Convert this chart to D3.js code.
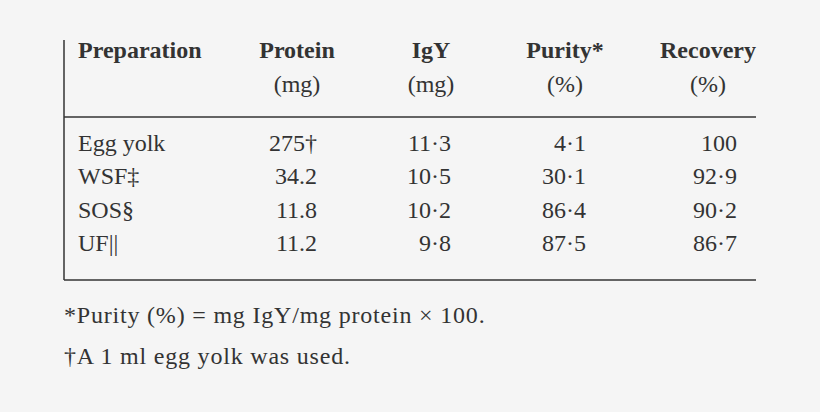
<!DOCTYPE html>
<html><head><meta charset="utf-8">
<script src="https://cdn.jsdelivr.net/npm/d3@7"></script>
<style>body{margin:0;background:#f5f5f5}</style>
</head><body><div id="chart"></div>
<script>
var headers = [["Preparation", ""], ["Protein", "(mg)"], ["IgY", "(mg)"], ["Purity*", "(%)"], ["Recovery", "(%)"]];
var rows = ["Egg yolk", "WSF‡", "SOS§", "UF||"];
var protein = ["275†", "34.2", "11.8", "11.2"];
var igy = ["11·3", "10·5", "10·2", "9·8"];
var purity = ["4·1", "30·1", "86·4", "87·5"];
var recovery = ["100", "92·9", "90·2", "86·7"];
var notes = ["*Purity (%) = mg IgY/mg protein × 100.", "†A 1 ml egg yolk was used."];

var width = 820, height = 412;
var svg = d3.select('#chart').append('svg').attr('width', width).attr('height', height)
  .style('font-family', '"Liberation Serif", "DejaVu Serif", serif');
svg.append('rect').attr('width', width).attr('height', height).attr('fill', '#f5f5f5');

var cols = [rows, protein, igy, purity, recovery];
var headX = [78, 297, 431, 565, 708];
var valX = [78, 317, 451, 586, 737];

var y = d3.scaleBand().domain(d3.range(rows.length)).range([126, 260]);

// rules
[[64, 64, 40, 280], [64, 756, 117, 117], [64, 756, 280, 280]].forEach(function(l) {
  svg.append('line').attr('x1', l[0]).attr('x2', l[1]).attr('y1', l[2]).attr('y2', l[3])
    .attr('stroke', '#333').attr('stroke-width', 1.5);
});

headers.forEach(function(h, i) {
  h.forEach(function(t, j) {
    svg.append('text').attr('x', headX[i]).attr('y', 58 + j * 34)
      .attr('text-anchor', i === 0 ? 'start' : 'middle')
      .attr('font-weight', j === 0 ? 'bold' : 'normal')
      .attr('font-size', 24).attr('fill', '#333').text(t);
  });
});

cols.forEach(function(c, i) {
  svg.selectAll(null).data(c).enter().append('text')
    .attr('x', valX[i])
    .attr('y', function(d, k) { return y(k) + y.bandwidth() / 2 + 8; })
    .attr('text-anchor', i === 0 ? 'start' : 'end')
    .attr('font-size', 24).attr('fill', '#333').text(function(d) { return d; });
});

notes.forEach(function(t, i) {
  svg.append('text').attr('x', 64).attr('y', 323 + i * 41).attr('font-size', 24)
    .attr('letter-spacing', 0.8).attr('fill', '#333').text(t);
});
</script></body></html>
